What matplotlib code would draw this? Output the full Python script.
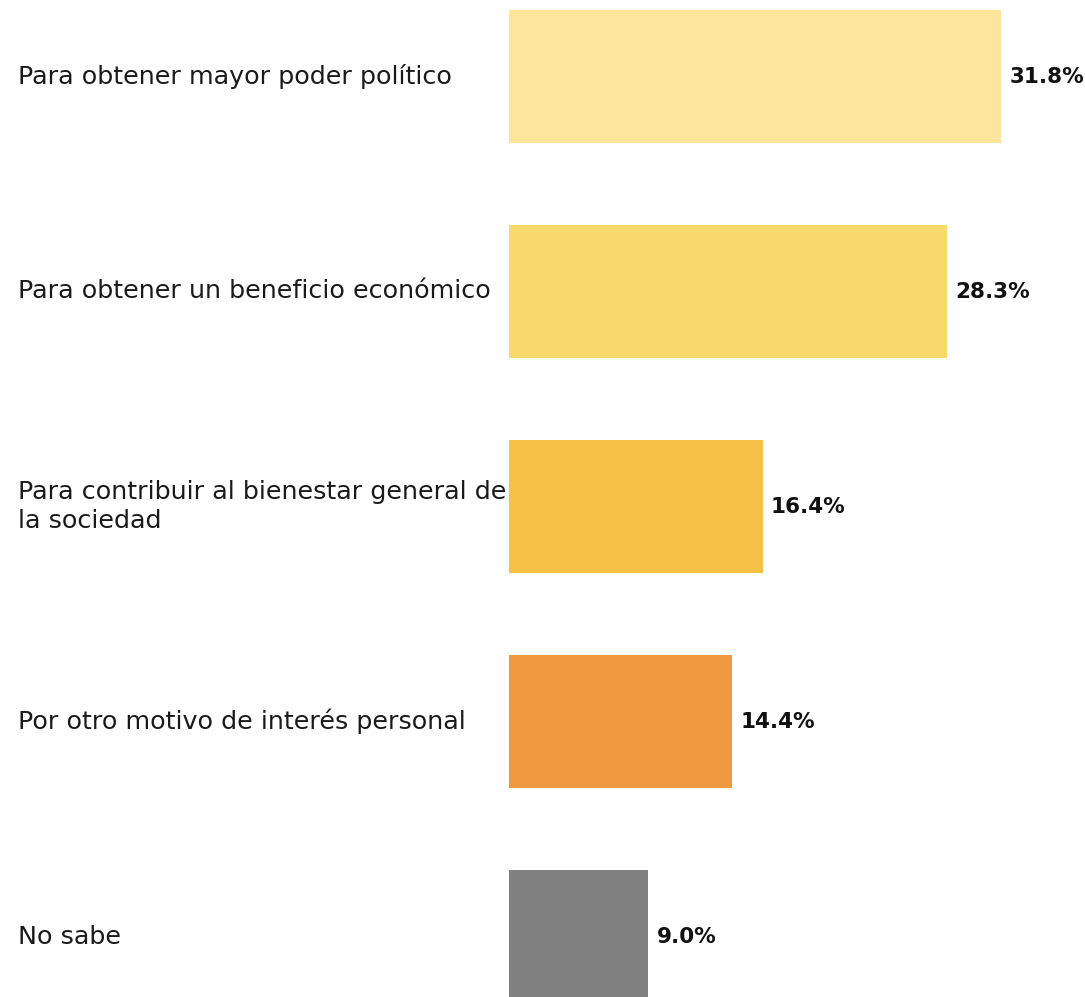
import matplotlib.pyplot as plt

categories = ["Para obtener mayor poder político",
              "Para obtener un beneficio económico",
              "Para contribuir al bienestar general de\nla sociedad",
              "Por otro motivo de interés personal",
              "No sabe"]
values = [31.8, 28.3, 16.4, 14.4, 9.0]
colors = ["#FDE59B", "#F9D96C", "#F6C046", "#EE993E", "#808080"]

fig = plt.figure(figsize=(10.85, 9.97), dpi=100)
# axes spans from x=509px to right edge, full height
ax = fig.add_axes([509 / 1085, 0, 1 - 509 / 1085, 1])

pos = list(range(len(categories)))
ax.barh(pos, values, height=0.62, color=colors)
ax.set_xlim(0, 576 / 15.47)
ax.set_ylim(4.281, -0.356)
ax.axis("off")

for p, v in zip(pos, values):
    ax.annotate(f"{v:.1f}%", (v, p), xytext=(6, 0), textcoords="offset points",
                ha="left", va="center", fontsize=15.5, fontweight="bold", color="#111111")

for p, c in zip(pos, categories):
    y = 1 - (76.5 + 215 * p) / 997
    fig.text(18 / 1085, y, c, ha="left", va="center", fontsize=18.3,
             color="#1a1a1a", linespacing=1.28)

fig.savefig("out.png", dpi=100)
